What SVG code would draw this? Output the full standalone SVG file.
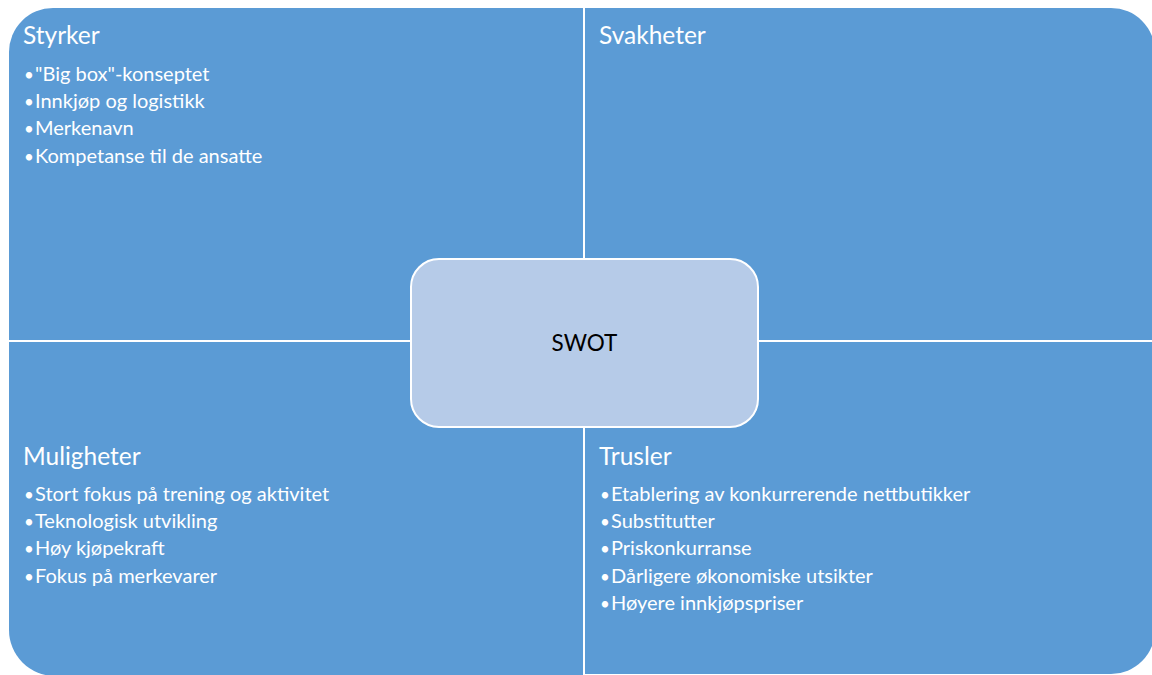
<svg xmlns="http://www.w3.org/2000/svg" width="1152" height="675" viewBox="0 0 1152 675">
<style>
.q{fill:#5B9BD5}
.t{font-family:Lato,"Open Sans",sans-serif;fill:#ffffff;font-size:24.5px}
.b{font-family:Lato,"Open Sans",sans-serif;fill:#ffffff;font-size:20px}
.d{font-size:17px}
.c{font-family:Lato,"Open Sans",sans-serif;fill:#000000;font-size:22.5px}
</style>
<rect width="1152" height="675" fill="#ffffff"/>
<g id="styrker">
<path class="q" d="M9,52 A44,44 0 0 1 53,8 L583,8 L583,340 L9,340 Z"/>
<text class="t" x="23" y="44">Styrker</text>
<text class="b" y="81"><tspan class="d" x="24">•</tspan><tspan x="35">"Big box"-konseptet</tspan></text>
<text class="b" y="108"><tspan class="d" x="24">•</tspan><tspan x="35">Innkjøp og logistikk</tspan></text>
<text class="b" y="135"><tspan class="d" x="24">•</tspan><tspan x="35">Merkenavn</tspan></text>
<text class="b" y="163"><tspan class="d" x="24">•</tspan><tspan x="35">Kompetanse til de ansatte</tspan></text>
</g>
<g id="svakheter">
<path class="q" d="M585,8 L1111,8 A44,44 0 0 1 1155,52 L1155,340 L585,340 Z"/>
<text class="t" x="599" y="44">Svakheter</text>
</g>
<g id="muligheter">
<path class="q" d="M9,342 L583,342 L583,676 L55,676 A46,46 0 0 1 9,630 Z"/>
<text class="t" x="23" y="465">Muligheter</text>
<text class="b" y="501"><tspan class="d" x="24">•</tspan><tspan x="35">Stort fokus på trening og aktivitet</tspan></text>
<text class="b" y="528"><tspan class="d" x="24">•</tspan><tspan x="35">Teknologisk utvikling</tspan></text>
<text class="b" y="555"><tspan class="d" x="24">•</tspan><tspan x="35">Høy kjøpekraft</tspan></text>
<text class="b" y="583"><tspan class="d" x="24">•</tspan><tspan x="35">Fokus på merkevarer</tspan></text>
</g>
<g id="trusler">
<path class="q" d="M585,342 L1155,342 L1155,630 A44,44 0 0 1 1111,674 L585,674 Z"/>
<text class="t" x="599" y="465">Trusler</text>
<text class="b" y="501"><tspan class="d" x="600">•</tspan><tspan x="611">Etablering av konkurrerende nettbutikker</tspan></text>
<text class="b" y="528"><tspan class="d" x="600">•</tspan><tspan x="611">Substitutter</tspan></text>
<text class="b" y="555"><tspan class="d" x="600">•</tspan><tspan x="611">Priskonkurranse</tspan></text>
<text class="b" y="583"><tspan class="d" x="600">•</tspan><tspan x="611">Dårligere økonomiske utsikter</tspan></text>
<text class="b" y="610"><tspan class="d" x="600">•</tspan><tspan x="611">Høyere innkjøpspriser</tspan></text>
</g>
<g id="connectors"></g>
<g id="swot">
<rect x="411" y="259" width="347" height="168" rx="28" ry="28" fill="#B6CBE8" stroke="#ffffff" stroke-width="2"/>
<text class="c" x="584.5" y="351" text-anchor="middle">SWOT</text>
</g>
</svg>
